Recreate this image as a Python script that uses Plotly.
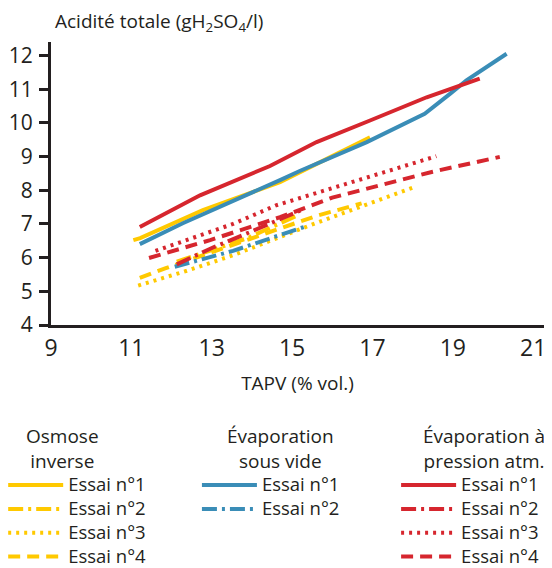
import plotly.graph_objects as go

# ---- data (TAPV % vol. -> acidité totale g H2SO4/l) ----
osm1_x = [11.05, 11.22, 12.78, 14.70, 16.94]
osm1_y = [6.52, 6.58, 7.41, 8.24, 9.57]
osm2_x = [12.13, 13.87, 15.11]
osm2_y = [5.88, 6.57, 7.24]
osm3_x = [11.17, 12.38, 13.53, 14.70, 15.43, 18.10]
osm3_y = [5.17, 5.61, 6.07, 6.60, 6.95, 8.12]
osm4_x = [11.21, 11.84, 15.61, 16.73]
osm4_y = [5.40, 5.68, 7.24, 7.61]

vid1_x = [11.21, 12.28, 14.70, 15.19, 16.86, 18.30, 18.93, 19.34, 20.34]
vid1_y = [6.40, 7.02, 8.30, 8.57, 9.43, 10.27, 10.86, 11.26, 12.05]
vid2_x = [12.08, 13.53, 15.32]
vid2_y = [5.73, 6.20, 6.92]

atm1_x = [11.21, 12.71, 14.45, 15.61, 16.94, 18.35, 19.67]
atm1_y = [6.91, 7.85, 8.72, 9.43, 10.07, 10.76, 11.31]
atm2_x = [12.13, 13.03, 13.78, 15.25]
atm2_y = [5.80, 6.30, 6.67, 7.42]
atm3_x = [11.60, 13.53, 14.60, 16.69, 18.59]
atm3_y = [6.20, 7.00, 7.55, 8.30, 9.01]
atm4_x = [11.44, 12.96, 14.70, 16.00, 18.50, 20.17]
atm4_y = [5.99, 6.52, 7.20, 7.78, 8.55, 8.99]

x_ticks = [9, 11, 13, 15, 17, 19, 21]
y_ticks = [4, 5, 6, 7, 8, 9, 10, 11, 12]

group_titles = ["Osmose<br>inverse", "Évaporation<br>sous vide", "Évaporation à<br>pression atm."]
trial_names = ["Essai n°1", "Essai n°2", "Essai n°3", "Essai n°4"]

YELLOW = "#FFC900"
BLUE = "#3A8DB7"
RED = "#D6262E"
DARK = "#231F20"
FONT = "Open Sans"

SOLID = "solid"
DASHDOT = "15px,5px,3px,5px"
DOT = "3px,5px"
DASH = "12px,7px"

series = [
    (osm1_x, osm1_y, YELLOW, SOLID, trial_names[0], "legend"),
    (osm2_x, osm2_y, YELLOW, DASHDOT, trial_names[1], "legend"),
    (osm3_x, osm3_y, YELLOW, DOT, trial_names[2], "legend"),
    (osm4_x, osm4_y, YELLOW, DASH, trial_names[3], "legend"),
    (vid1_x, vid1_y, BLUE, SOLID, trial_names[0], "legend2"),
    (vid2_x, vid2_y, BLUE, DASHDOT, trial_names[1], "legend2"),
    (atm1_x, atm1_y, RED, SOLID, trial_names[0], "legend3"),
    (atm2_x, atm2_y, RED, DASHDOT, trial_names[1], "legend3"),
    (atm3_x, atm3_y, RED, DOT, trial_names[2], "legend3"),
    (atm4_x, atm4_y, RED, DASH, trial_names[3], "legend3"),
]

fig = go.Figure()
for xs, ys, col, dash, name, leg in series:
    fig.add_trace(go.Scatter(
        x=xs, y=ys, mode="lines", legend=leg,
        name='<span style="font-size:18.5px">' + name + "</span>",
        line=dict(color=col, width=4, dash=dash),
        hoverinfo="skip",
    ))

# legend font size sets the row pitch; the entry text itself is drawn a bit larger
leg_common = dict(
    orientation="v", yanchor="top", xanchor="left", y=-0.506,
    font=dict(family=FONT, size=16, color=DARK),
    bgcolor="rgba(0,0,0,0)", itemwidth=55, tracegroupgap=0,
    itemclick=False, itemdoubleclick=False,
)

# the page body adds an 8 px margin, so the figure is 8 px smaller on each axis
fig.update_layout(
    width=544, height=560,
    margin=dict(l=43, r=8, t=34, b=243, autoexpand=False),
    paper_bgcolor="white", plot_bgcolor="white",
    font=dict(family=FONT, color=DARK),
    showlegend=True,
    legend=dict(x=-0.097, **leg_common),
    legend2=dict(x=0.296, **leg_common),
    legend3=dict(x=0.700, **leg_common),
    xaxis=dict(
        range=[9, 21.27], tickvals=x_ticks, ticktext=[str(v) for v in x_ticks],
        showgrid=False, zeroline=False, showline=True, linewidth=3, linecolor=DARK,
        ticks="", tickfont=dict(family=FONT, size=23, color=DARK), automargin=False,
        title=dict(text="TAPV (% vol.)", font=dict(family=FONT, size=19, color=DARK), standoff=16),
    ),
    yaxis=dict(
        range=[4, 12.4], tickvals=y_ticks, ticktext=[str(v) for v in y_ticks],
        showgrid=False, zeroline=False, showline=True, linewidth=3, linecolor=DARK,
        ticks="outside", ticklen=9, tickwidth=2.5, tickcolor=DARK, automargin=False,
        ticklabelstandoff=2,
        tickfont=dict(family=FONT, size=21, color=DARK),
    ),
)

# y-axis line extending below the x-axis at x = 9
fig.add_shape(type="line", xref="x", yref="y", x0=9, x1=9, y0=4, y1=3.75,
              line=dict(color=DARK, width=3))

# y-axis title at top-left
fig.add_annotation(
    text="Acidité totale (gH<sub>2</sub>SO<sub>4</sub>/l)", xref="paper", yref="paper",
    x=0.006, y=1.072, xanchor="left", yanchor="middle", showarrow=False, borderpad=0,
    font=dict(family=FONT, size=19, color=DARK),
)

# legend group titles
for txt, xp in zip(group_titles, [0.024, 0.465, 0.878]):
    fig.add_annotation(
        text=txt, xref="paper", yref="paper", x=xp, y=-0.436,
        xanchor="center", yanchor="middle", align="center", showarrow=False, borderpad=0,
        font=dict(family=FONT, size=19, color=DARK),
    )

fig.write_html("out.html")
